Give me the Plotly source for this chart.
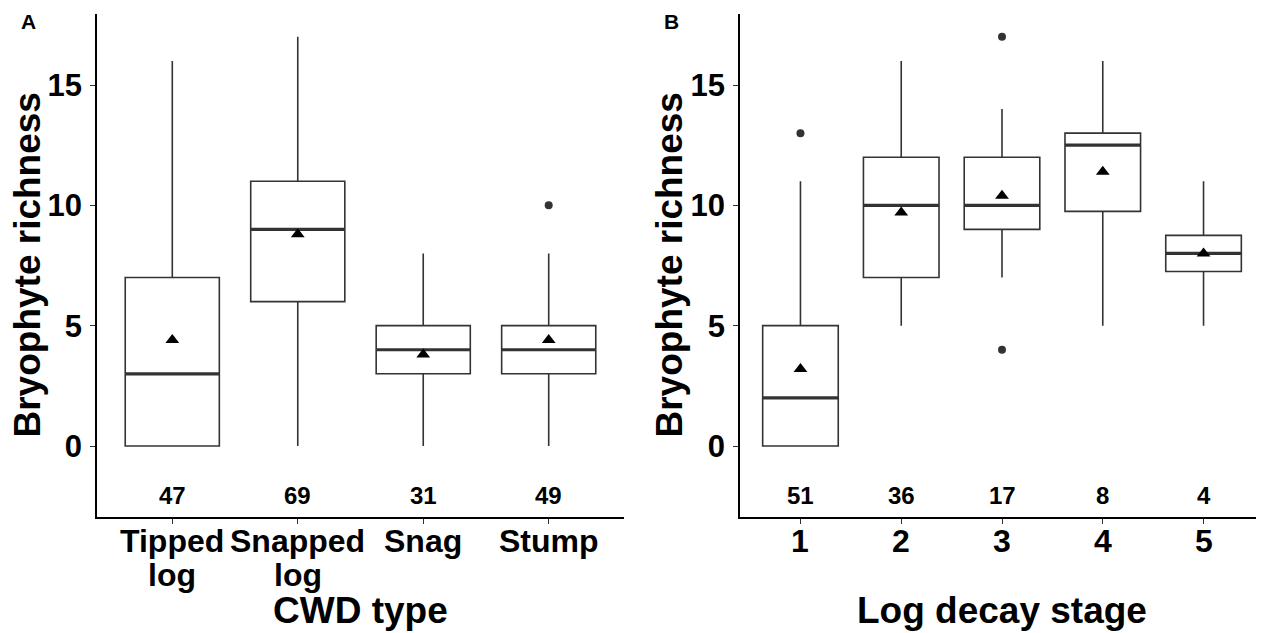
import plotly.graph_objects as go

# ---------------- data ----------------
cwd_types = ["Tipped<br>log", "Snapped<br>log", "Snag", "Stump"]
cwd_q1 = [0, 6, 3, 3]
cwd_median = [3, 9, 4, 4]
cwd_q3 = [7, 11, 5, 5]
cwd_lower = [0, 0, 0, 0]
cwd_upper = [16, 17, 8, 8]
cwd_mean = [4.4, 8.8, 3.8, 4.4]
cwd_n = [47, 69, 31, 49]
cwd_out_x = [4]
cwd_out_y = [10]

decay_stages = ["1", "2", "3", "4", "5"]
dec_q1 = [0, 7, 9, 9.75, 7.25]
dec_median = [2, 10, 10, 12.5, 8]
dec_q3 = [5, 12, 12, 13, 8.75]
dec_lower = [0, 5, 7, 5, 5]
dec_upper = [11, 16, 14, 16, 11]
dec_mean = [3.2, 9.7, 10.4, 11.4, 8.0]
dec_n = [51, 36, 17, 8, 4]
dec_out_x = [1, 3, 3]
dec_out_y = [13, 17, 4]

count_y = -2
y_ticks = [0, 5, 10, 15]

# ---------------- style / layout ----------------
OFF = 8                      # page body margin in the browser
W, H = 1264 - OFF, 633 - OFF
FONT = "Liberation Sans, Arial, Helvetica, sans-serif"
BOX_W = 0.75
LINE_C = "#333333"


def px(vx):   # viewport x -> paper
    return (vx - OFF) / W


def py(vy):   # viewport y -> paper
    return 1 - (vy - OFF) / H


fig = go.Figure()


def add_panel(cats, q1, med, q3, lo, hi, mean, n, ox, oy, xa, ya):
    xs = list(range(1, len(cats) + 1))
    fig.add_trace(go.Box(
        x=xs, q1=q1, median=med, q3=q3, lowerfence=lo, upperfence=hi,
        width=BOX_W, whiskerwidth=0, boxpoints=False,
        fillcolor="white", line=dict(color=LINE_C, width=1.6),
        xaxis=xa, yaxis=ya, showlegend=False, hoverinfo="skip"))
    mx, my = [], []
    for x, m in zip(xs, med):
        mx += [x - BOX_W / 2, x + BOX_W / 2, None]
        my += [m, m, None]
    fig.add_trace(go.Scatter(x=mx, y=my, mode="lines",
                             line=dict(color=LINE_C, width=3.2),
                             xaxis=xa, yaxis=ya, showlegend=False, hoverinfo="skip"))
    fig.add_trace(go.Scatter(x=ox, y=oy, mode="markers",
                             marker=dict(symbol="circle", size=8, color=LINE_C),
                             xaxis=xa, yaxis=ya, showlegend=False))
    fig.add_trace(go.Scatter(x=xs, y=mean, mode="markers",
                             marker=dict(symbol="triangle-up", size=12, color="black"),
                             xaxis=xa, yaxis=ya, showlegend=False))
    # sample sizes
    for x, v in zip(xs, n):
        fig.add_annotation(x=x, y=count_y, xref=xa, yref=ya, text=str(v),
                           showarrow=False, yshift=-1,
                           font=dict(family=FONT, size=24, color="black", weight="bold"))
    # category labels (one annotation per line, 34 px line spacing)
    for x, c in zip(xs, cats):
        for k, line in enumerate(c.split("<br>")):
            fig.add_annotation(x=x, y=py(541 + 34 * k), xref=xa, yref="paper",
                               text=line, showarrow=False,
                               xanchor="center", yanchor="middle",
                               font=dict(family=FONT, size=32, color="black", weight="bold"))


add_panel(cwd_types, cwd_q1, cwd_median, cwd_q3, cwd_lower, cwd_upper, cwd_mean,
          cwd_n, cwd_out_x, cwd_out_y, "x", "y")
add_panel(decay_stages, dec_q1, dec_median, dec_q3, dec_lower, dec_upper, dec_mean,
          dec_n, dec_out_x, dec_out_y, "x2", "y2")

ydom = [py(517), py(14)]
xdomA = [px(97), px(624)]
xdomB = [px(740), 1.0]

axis_common = dict(showline=True, linecolor="black", linewidth=1.6, showgrid=False,
                   zeroline=False, ticks="outside", ticklen=5, tickwidth=1.4,
                   tickcolor=LINE_C,
                   tickfont=dict(family=FONT, size=31, color="black", weight="bold"))

fig.update_layout(
    width=W, height=H, margin=dict(l=0, r=0, t=0, b=0),
    paper_bgcolor="white", plot_bgcolor="white", showlegend=False,
    xaxis=dict(domain=xdomA, range=[0.4, len(cwd_types) + 0.6],
               tickvals=list(range(1, len(cwd_types) + 1)), showticklabels=False,
               anchor="y", **axis_common),
    yaxis=dict(domain=ydom, range=[-2.95, 17.95], tickvals=y_ticks,
               anchor="x", ticklabelstandoff=2, **axis_common),
    xaxis2=dict(domain=xdomB, range=[0.4, len(decay_stages) + 0.6],
                tickvals=list(range(1, len(decay_stages) + 1)), showticklabels=False,
                anchor="y2", **axis_common),
    yaxis2=dict(domain=ydom, range=[-2.95, 17.95], tickvals=y_ticks,
                anchor="x2", ticklabelstandoff=2, **axis_common),
)

title_font = dict(family=FONT, size=37, color="black", weight="bold")
letter_font = dict(family=FONT, size=21, color="black", weight="bold")
ymid = py(265.5)
ann = [
    dict(text="Bryophyte richness", x=px(27), y=ymid, textangle=-90, font=title_font),
    dict(text="Bryophyte richness", x=px(669), y=ymid, textangle=-90, font=title_font),
    dict(text="CWD type", x=(xdomA[0] + xdomA[1]) / 2, y=py(610), font=title_font),
    dict(text="Log decay stage", x=(xdomB[0] + xdomB[1]) / 2, y=py(610), font=title_font),
    dict(text="A", x=px(28.5), y=py(21.5), font=letter_font),
    dict(text="B", x=px(671.5), y=py(21.5), font=letter_font),
]
for a in ann:
    fig.add_annotation(xref="paper", yref="paper", showarrow=False,
                       xanchor="center", yanchor="middle", borderpad=0, **a)

fig.write_html("out.html")
